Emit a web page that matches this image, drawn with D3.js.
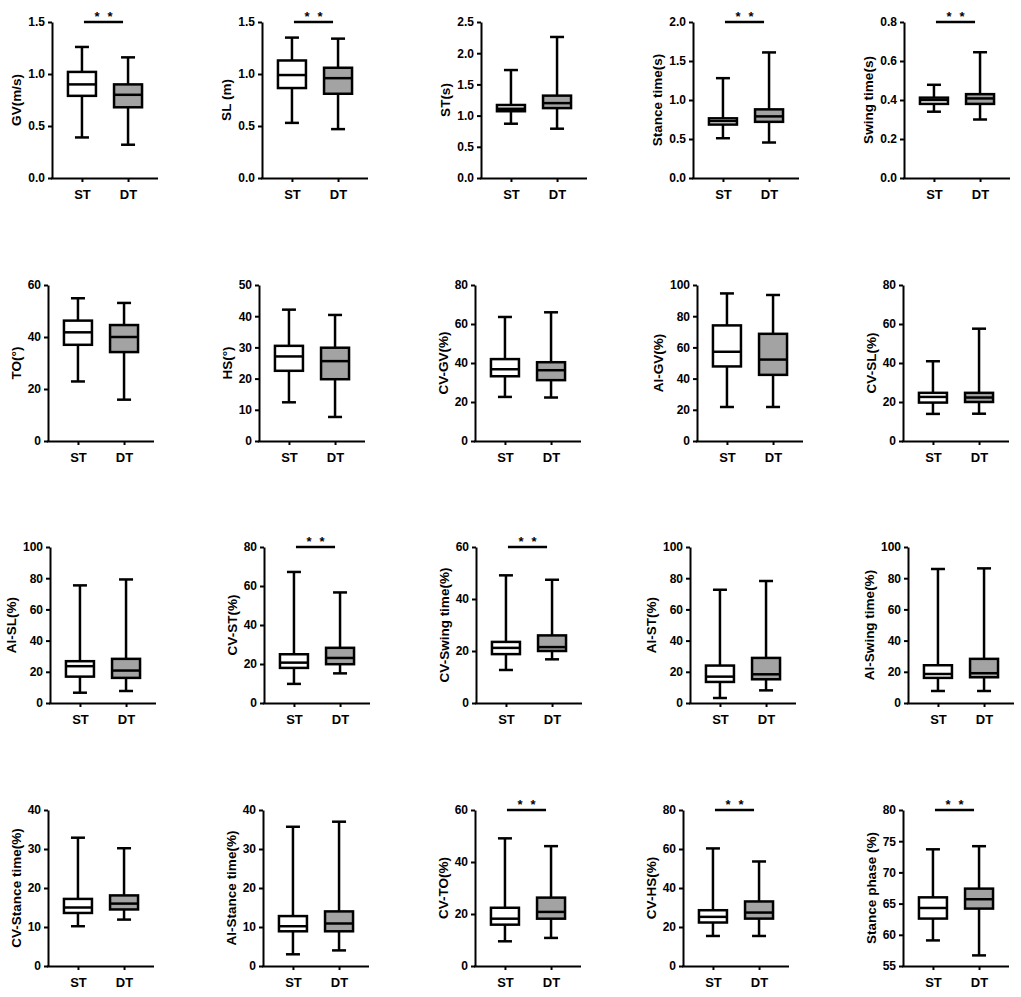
<!DOCTYPE html>
<html>
<head>
<meta charset="utf-8">
<script src="https://cdn.jsdelivr.net/npm/d3@7"></script>
<style>
  body { margin: 0; background: #fff; }
  svg { display: block; font-family: "Liberation Sans", Arial, sans-serif; }
</style>
</head>
<body>
<script>
// ------------------------ data ------------------------
const titles = [
  "GV(m/s)", "SL (m)", "ST(s)", "Stance time(s)", "Swing time(s)",
  "TO(°)", "HS(°)", "CV-GV(%)", "AI-GV(%)", "CV-SL(%)",
  "AI-SL(%)", "CV-ST(%)", "CV-Swing time(%)", "AI-ST(%)", "AI-Swing time(%)",
  "CV-Stance time(%)", "AI-Stance time(%)", "CV-TO(%)", "CV-HS(%)", "Stance phase (%)"
];

const groups = ["ST", "DT"];

const yTicks = [
  [0, 0.5, 1, 1.5], [0, 0.5, 1, 1.5], [0, 0.5, 1, 1.5, 2, 2.5], [0, 0.5, 1, 1.5, 2], [0, 0.2, 0.4, 0.6, 0.8],
  [0, 20, 40, 60], [0, 10, 20, 30, 40, 50], [0, 20, 40, 60, 80], [0, 20, 40, 60, 80, 100], [0, 20, 40, 60, 80],
  [0, 20, 40, 60, 80, 100], [0, 20, 40, 60, 80], [0, 20, 40, 60], [0, 20, 40, 60, 80, 100], [0, 20, 40, 60, 80, 100],
  [0, 10, 20, 30, 40], [0, 10, 20, 30, 40], [0, 20, 40, 60], [0, 20, 40, 60, 80], [55, 60, 65, 70, 75, 80]
];

// five number summaries: [min, q1, median, q3, max]
const stStats = [
  [0.39, 0.79, 0.90, 1.02, 1.26], [0.53, 0.865, 0.99, 1.13, 1.35], [0.87, 1.07, 1.11, 1.17, 1.73],
  [0.51, 0.685, 0.73, 0.765, 1.28], [0.34, 0.38, 0.40, 0.412, 0.478],
  [22.9, 37.0, 41.8, 46.3, 54.9], [12.4, 22.5, 27.1, 30.5, 42.1], [22.6, 33.2, 36.8, 42.0, 63.6],
  [21.8, 47.8, 57.2, 74.1, 94.6], [13.9, 19.7, 22.6, 24.7, 40.9],
  [6.6, 16.9, 23.6, 26.8, 75.4], [9.8, 18.0, 20.7, 25.0, 67.2], [12.7, 18.8, 21.2, 23.5, 49.1],
  [3.2, 13.5, 16.9, 24.0, 72.6], [7.7, 16.1, 18.6, 24.2, 85.9],
  [10.2, 13.6, 15.0, 17.2, 32.9], [3.0, 8.9, 10.2, 12.8, 35.7], [9.5, 15.9, 18.2, 22.4, 49.1],
  [15.4, 22.3, 25.2, 28.6, 60.3], [59.1, 62.6, 64.3, 66.0, 73.7]
];

const dtStats = [
  [0.32, 0.68, 0.80, 0.90, 1.16], [0.47, 0.81, 0.96, 1.06, 1.34], [0.79, 1.12, 1.20, 1.32, 2.26],
  [0.455, 0.72, 0.79, 0.88, 1.61], [0.30, 0.38, 0.408, 0.43, 0.645],
  [15.9, 34.2, 40.0, 44.6, 53.1], [7.7, 19.8, 25.6, 29.9, 40.4], [22.3, 31.2, 36.3, 40.4, 66.0],
  [21.8, 42.4, 52.2, 68.7, 93.6], [14.0, 20.0, 22.3, 24.7, 57.6],
  [7.7, 16.1, 20.8, 28.3, 79.2], [15.2, 19.9, 23.1, 28.3, 56.7], [16.8, 20.0, 21.5, 26.0, 47.4],
  [8.1, 15.2, 18.4, 28.9, 78.2], [7.7, 16.5, 19.1, 28.3, 86.3],
  [11.9, 14.5, 16.0, 18.1, 30.2], [4.0, 8.9, 10.9, 14.0, 37.0], [10.8, 18.2, 20.8, 26.3, 46.1],
  [15.4, 24.3, 27.4, 33.1, 53.6], [56.7, 64.2, 65.7, 67.4, 74.2]
];

const significant = [
  true, true, false, true, true,
  false, false, false, false, false,
  false, true, true, false, false,
  false, false, true, true, true
];

// ------------------------ layout ------------------------
const W = 1021, H = 997;
const PLOT_H = 156, PLOT_W = 106, BOX_W = 28, CAP_W = 14;
const rowTops = [22, 285, 547, 810];
const rowAxisX = [
  [52, 262, 481, 693, 904],
  [48, 259, 475, 697, 903],
  [50, 264, 476, 690, 908],
  [48, 263, 475, 683, 903]
];
const fills = { ST: "#ffffff", DT: "#a3a3a3" };

const svg = d3.select("body").append("svg")
  .attr("width", W)
  .attr("height", H);

titles.forEach((title, i) => {
  const row = Math.floor(i / 5), col = i % 5;
  const g = svg.append("g")
    .attr("transform", `translate(${rowAxisX[row][col]}, ${rowTops[row]})`);

  const ticks = yTicks[i];
  const y = d3.scaleLinear().domain(d3.extent(ticks)).range([PLOT_H, 0]);
  const x = d3.scalePoint().domain(groups).range([0, PLOT_W]).padding(0.65);
  const fmt = ticks.some((t) => !Number.isInteger(t)) ? d3.format(".1f") : d3.format("d");

  // y axis
  const yAxis = g.append("g")
    .call(d3.axisLeft(y).tickValues(ticks).tickFormat(fmt).tickSize(4).tickSizeOuter(0).tickPadding(3));
  yAxis.select(".domain").attr("stroke-width", 2);
  yAxis.selectAll(".tick line").attr("stroke-width", 2);
  yAxis.selectAll(".tick text")
    .attr("fill", "#000")
    .style("font-size", "12px")
    .style("font-weight", "bold");

  // x axis
  const xAxis = g.append("g")
    .attr("transform", `translate(0, ${PLOT_H})`)
    .call(d3.axisBottom(x).tickSize(4).tickSizeOuter(0).tickPadding(8));
  xAxis.select(".domain").attr("stroke-width", 2).attr("d", `M-1,0.5H${PLOT_W}`);
  xAxis.selectAll(".tick line").attr("stroke-width", 2);
  xAxis.selectAll(".tick text")
    .attr("fill", "#000")
    .style("font-size", "13px")
    .style("font-weight", "bold");

  // axis title
  const tickBox = yAxis.node().getBBox();
  g.append("text")
    .attr("transform", `translate(${tickBox.x - 7}, ${PLOT_H / 2}) rotate(-90)`)
    .attr("text-anchor", "middle")
    .style("font-size", "13.5px")
    .style("font-weight", "bold")
    .text(title);

  // boxes
  const data = [
    { group: "ST", s: stStats[i] },
    { group: "DT", s: dtStats[i] }
  ];
  const box = g.selectAll(".box").data(data).join("g").attr("class", "box");

  box.append("line")
    .attr("x1", (d) => x(d.group)).attr("x2", (d) => x(d.group))
    .attr("y1", (d) => y(d.s[0])).attr("y2", (d) => y(d.s[4]))
    .attr("stroke", "#000").attr("stroke-width", 2.5);

  [0, 4].forEach((k) => {
    box.append("line")
      .attr("x1", (d) => x(d.group) - CAP_W / 2).attr("x2", (d) => x(d.group) + CAP_W / 2)
      .attr("y1", (d) => y(d.s[k])).attr("y2", (d) => y(d.s[k]))
      .attr("stroke", "#000").attr("stroke-width", 2.5);
  });

  box.append("rect")
    .attr("x", (d) => x(d.group) - BOX_W / 2)
    .attr("width", BOX_W)
    .attr("y", (d) => y(d.s[3]))
    .attr("height", (d) => y(d.s[1]) - y(d.s[3]))
    .attr("fill", (d) => fills[d.group])
    .attr("stroke", "#000").attr("stroke-width", 2.5);

  box.append("line")
    .attr("x1", (d) => x(d.group) - BOX_W / 2).attr("x2", (d) => x(d.group) + BOX_W / 2)
    .attr("y1", (d) => y(d.s[2])).attr("y2", (d) => y(d.s[2]))
    .attr("stroke", "#000").attr("stroke-width", 2.5);

  // significance bar with two stars
  if (significant[i]) {
    const x1 = x("ST") + 2, x2 = x("DT") - 5;
    const mid = (x1 + x2) / 2;
    g.append("line")
      .attr("x1", x1).attr("x2", x2)
      .attr("y1", 0).attr("y2", 0)
      .attr("stroke", "#000").attr("stroke-width", 2.5);
    g.selectAll(".star").data([-6.5, 6.5]).join("text")
      .attr("class", "star")
      .attr("x", (d) => mid + d)
      .attr("y", -1.5)
      .attr("text-anchor", "middle")
      .style("font-size", "13px")
      .style("font-weight", "bold")
      .text("*");
  }
});
</script>
</body>
</html>
